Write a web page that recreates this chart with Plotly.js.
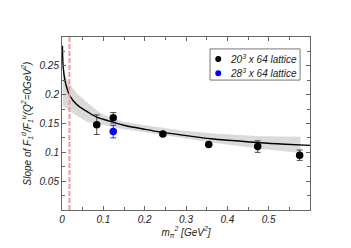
<!DOCTYPE html>
<html><head><meta charset="utf-8">
<script src="https://cdn.plot.ly/plotly-3.0.1.min.js"></script>
<style>html,body{margin:0;padding:0;background:#fff}#chart{width:351px;height:248px}</style>
</head><body><div id="chart"></div>
<script>
// lattice data, 20^3 x 64
const mpi2_20 = [0.084, 0.124, 0.244, 0.355, 0.4735, 0.575];
const slope_20 = [0.148, 0.160, 0.132, 0.1137, 0.110, 0.095];
const err_20 = [0.017, 0.009, 0.003, 0.002, 0.010, 0.009];
// lattice data, 28^3 x 64
const mpi2_28 = [0.124];
const slope_28 = [0.136];
const err_28 = [0.011];
// chiral fit curve
const fit_x = [0.001, 0.003, 0.0073, 0.012, 0.019, 0.0356, 0.06, 0.084, 0.116, 0.15, 0.2, 0.24, 0.3, 0.36, 0.42, 0.48, 0.54, 0.6];
const fit_y = [0.285, 0.247, 0.224, 0.211, 0.198, 0.183, 0.171, 0.161, 0.154, 0.147, 0.140, 0.135, 0.129, 0.1235, 0.120, 0.1165, 0.114, 0.112];
// error band
const band_x = [0.002, 0.01, 0.019, 0.035, 0.06, 0.09, 0.116, 0.15, 0.2, 0.24, 0.3, 0.36, 0.42, 0.48, 0.577];
const band_hi = [0.250, 0.230, 0.218, 0.203, 0.187, 0.170, 0.160, 0.153, 0.147, 0.143, 0.137, 0.133, 0.130, 0.128, 0.127];
const band_lo = [0.180, 0.176, 0.172, 0.164, 0.153, 0.149, 0.145, 0.140, 0.135, 0.131, 0.124, 0.117, 0.111, 0.106, 0.099];
// physical pion mass squared
const phys_mpi2 = 0.018;
const legend_labels = ['<i>20<sup>3</sup> x 64 lattice</i>', '<i>28<sup>3</sup> x 64 lattice</i>'];
const xticks = [0, 0.1, 0.2, 0.3, 0.4, 0.5];
const yticks = [0.05, 0.1, 0.15, 0.2, 0.25];

const F = 'Liberation Sans, Arial, sans-serif';
const traces = [
  {x: band_x, y: band_lo, mode: 'lines', line: {width: 0}, hoverinfo: 'skip', showlegend: false},
  {x: band_x, y: band_hi, mode: 'lines', line: {width: 0}, fill: 'tonexty', fillcolor: 'rgb(218,218,218)', hoverinfo: 'skip', showlegend: false},
  {x: fit_x, y: fit_y, mode: 'lines', line: {color: '#000', width: 1.4, shape: 'spline'}, showlegend: false},
  {x: [phys_mpi2, phys_mpi2], y: [0, 0.3], mode: 'lines', line: {color: '#f59a9a', width: 2, dash: '5px,2px'}, showlegend: false},
  {x: mpi2_20, y: slope_20, mode: 'markers', marker: {color: '#000', size: 7.5},
   error_y: {type: 'data', array: err_20, color: '#222', thickness: 0.8, width: 3}, showlegend: false},
  {x: mpi2_28, y: slope_28, mode: 'markers', marker: {color: '#0000ff', size: 7.5},
   error_y: {type: 'data', array: err_28, color: '#0000ff', thickness: 0.8, width: 3}, showlegend: false}
];
const axcommon = {showgrid: false, zeroline: false, showline: true, linecolor: '#666', linewidth: 1, mirror: 'allticks',
  ticks: 'inside', ticklen: 4, tickcolor: '#666', tickfont: {family: F, size: 10, style: 'italic', color: '#222'}};
const layout = {
  width: 351, height: 248, margin: {l: 62, r: 41, t: 37, b: 38},
  paper_bgcolor: '#fff', plot_bgcolor: '#fff', showlegend: false,
  xaxis: Object.assign({}, axcommon, {range: [0, 0.6], tickmode: 'array', tickvals: xticks, ticktext: xticks.map(String),
    minor: {dtick: 0.05, tick0: 0, ticks: 'inside', ticklen: 3, tickcolor: '#666'},
    title: {text: '<i>m<sub>π</sub><sup>2</sup> [GeV<sup>2</sup>]</i>', font: {family: F, size: 10, color: '#222'}, standoff: 4}}),
  yaxis: Object.assign({}, axcommon, {range: [0, 0.3], tickmode: 'array', tickvals: yticks, ticktext: yticks.map(String),
    minor: {dtick: 0.025, tick0: 0, ticks: 'inside', ticklen: 3, tickcolor: '#666'},
    title: {text: '<i>Slope of F<sub>1</sub><sup>d</sup>/F<sub>1</sub><sup>u</sup>(Q<sup>2</sup>=0GeV<sup>2</sup>)</i>', font: {family: F, size: 10, color: '#222'}, standoff: 6}}),
  shapes: [
    {type: 'rect', xref: 'paper', yref: 'paper', x0: 0.597, x1: 0.960, y0: 0.751, y1: 0.931, line: {color: '#777', width: 1}, fillcolor: '#fff', layer: 'above'},
    {type: 'circle', xref: 'paper', yref: 'paper', xsizemode: 'pixel', ysizemode: 'pixel', xanchor: 0.630, yanchor: 0.873, x0: -3, x1: 3, y0: -3, y1: 3, fillcolor: '#000', line: {width: 0}, layer: 'above'},
    {type: 'circle', xref: 'paper', yref: 'paper', xsizemode: 'pixel', ysizemode: 'pixel', xanchor: 0.630, yanchor: 0.790, x0: -3, x1: 3, y0: -3, y1: 3, fillcolor: '#0000ff', line: {width: 0}, layer: 'above'}
  ],
  annotations: [
    {xref: 'paper', yref: 'paper', x: 0.669, y: 0.873, xanchor: 'left', yanchor: 'middle', showarrow: false, text: legend_labels[0], font: {family: F, size: 10, color: '#222'}},
    {xref: 'paper', yref: 'paper', x: 0.669, y: 0.790, xanchor: 'left', yanchor: 'middle', showarrow: false, text: legend_labels[1], font: {family: F, size: 10, color: '#222'}}
  ]
};
Plotly.newPlot('chart', traces, layout, {displayModeBar: false, staticPlot: true});
</script></body></html>
